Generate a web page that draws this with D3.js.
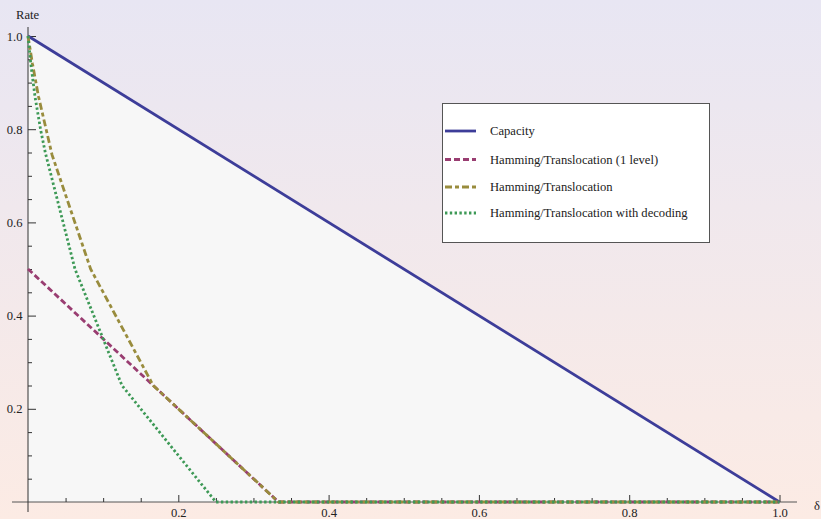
<!DOCTYPE html>
<html>
<head>
<meta charset="utf-8">
<script src="https://cdn.jsdelivr.net/npm/d3@7"></script>
<style>
  html, body { margin: 0; padding: 0; }
  svg { display: block; }
  text { font-family: "Liberation Serif", "Times New Roman", serif; }
</style>
</head>
<body>
<svg id="chart" width="821" height="519"></svg>
<script>
// Rate versus delta for several coding schemes
const capacityX = [0, 1];
const capacityY = [1, 0];

const oneLevelX = [0, 1 / 6, 1 / 3, 1];
const oneLevelY = [0.5, 0.25, 0, 0];

const hammingX = [0, 0.006, 0.014, 0.032, 1 / 12, 1 / 6, 1 / 3, 1];
const hammingY = [1, 0.94, 0.87, 0.745, 0.5, 0.25, 0, 0];

const decodingX = [0, 0.0036, 0.0093, 0.0169, 0.023, 0.0625, 0.125, 0.25, 1];
const decodingY = [1, 0.942, 0.87, 0.798, 0.75, 0.5, 0.25, 0, 0];

const majorTicks = [0.2, 0.4, 0.6, 0.8, 1.0];
const minorTicks = d3.range(1, 21).map(i => i * 0.05).filter(v => Math.abs(v * 5 - Math.round(v * 5)) > 1e-6);
const yMajorTicks = [0.2, 0.4, 0.6, 0.8, 1.0];

const seriesNames = [
  "Capacity",
  "Hamming/Translocation (1 level)",
  "Hamming/Translocation",
  "Hamming/Translocation with decoding"
];

const zip = (xs, ys) => xs.map((v, i) => [v, ys[i]]);
const series = [
  { name: seriesNames[0], pts: zip(capacityX, capacityY), color: "#3d3d99", dash: null, width: 2.8 },
  { name: seriesNames[1], pts: zip(oneLevelX, oneLevelY), color: "#993d71", dash: "6,3", width: 2.8 },
  { name: seriesNames[2], pts: zip(hammingX, hammingY), color: "#998c3d", dash: "7,3,4,3", width: 2.8 },
  { name: seriesNames[3], pts: zip(decodingX, decodingY), color: "#3d9956", dash: "2.4,2.4", width: 2.8 }
];

const W = 821, H = 519;
const FS = 12.6;
const svg = d3.select("#chart");

// background gradient
const defs = svg.append("defs");
const grad = defs.append("linearGradient").attr("id", "bg")
  .attr("x1", 0).attr("y1", 0).attr("x2", 0).attr("y2", 1);
grad.append("stop").attr("offset", "0%").attr("stop-color", "#e8e6f3");
grad.append("stop").attr("offset", "100%").attr("stop-color", "#fcebe4");
svg.append("rect").attr("width", W).attr("height", H).attr("fill", "url(#bg)");

const x = d3.scaleLinear().domain([0, 1]).range([28, 779.5]);
const y = d3.scaleLinear().domain([0, 1]).range([502, 36]);

// filled region under capacity
const area = d3.area().x(d => x(d[0])).y0(y(0)).y1(d => y(d[1]));
svg.append("path").datum(series[0].pts).attr("d", area).attr("fill", "#f7f7f7");

// axes
const axisColor = "#333";
svg.append("line").attr("x1", 12).attr("x2", 797).attr("y1", y(0)).attr("y2", y(0))
  .attr("stroke", "#555").attr("stroke-width", 1);
svg.append("line").attr("x1", x(0)).attr("x2", x(0)).attr("y1", 27).attr("y2", 512)
  .attr("stroke", axisColor).attr("stroke-width", 1);

const xMajor = svg.append("g").attr("transform", `translate(0,${y(0)})`)
  .call(d3.axisBottom(x).tickValues(majorTicks).tickSize(-7).tickPadding(6)
    .tickFormat(d3.format(".1f")));
const xMinor = svg.append("g").attr("transform", `translate(0,${y(0)})`)
  .call(d3.axisBottom(x).tickValues(minorTicks).tickSize(-4).tickFormat(""));
const yMajor = svg.append("g").attr("transform", `translate(${x(0)},0)`)
  .call(d3.axisLeft(y).tickValues(yMajorTicks).tickSize(-8).tickPadding(5.5)
    .tickFormat(d3.format(".1f")));
const yMinor = svg.append("g").attr("transform", `translate(${x(0)},0)`)
  .call(d3.axisLeft(y).tickValues(minorTicks).tickSize(-4).tickFormat(""));

[xMajor, xMinor, yMajor, yMinor].forEach(g => {
  g.select(".domain").remove();
  g.selectAll(".tick line").attr("stroke", axisColor).attr("stroke-width", 1);
  g.selectAll(".tick text").attr("font-family", "Liberation Serif").attr("font-size", FS).attr("fill", "#222");
});

// lines
const line = d3.line().x(d => x(d[0])).y(d => y(d[1]));
series.forEach(s => {
  svg.append("path").datum(s.pts).attr("d", line)
    .attr("fill", "none").attr("stroke", s.color).attr("stroke-width", s.width)
    .attr("stroke-dasharray", s.dash).attr("stroke-linejoin", "round");
});

// axis titles
svg.append("text").attr("x", 16).attr("y", 19).attr("font-size", FS).attr("fill", "#222").text("Rate");
svg.append("text").attr("x", 814).attr("y", 510).attr("font-size", FS).attr("fill", "#222").text("δ");

// legend
const lg = svg.append("g");
lg.append("rect").attr("x", 442.5).attr("y", 103.5).attr("width", 267).attr("height", 139)
  .attr("fill", "#ffffff").attr("stroke", "#555").attr("stroke-width", 1);
const rowY = [131, 159.5, 187, 213];
series.forEach((s, i) => {
  lg.append("line").attr("x1", 445).attr("x2", 476).attr("y1", rowY[i]).attr("y2", rowY[i])
    .attr("stroke", s.color).attr("stroke-width", s.width).attr("stroke-dasharray", s.dash);
  lg.append("text").attr("x", 490).attr("y", rowY[i] + 4).attr("font-size", FS).attr("fill", "#222")
    .text(s.name);
});
</script>
</body>
</html>
